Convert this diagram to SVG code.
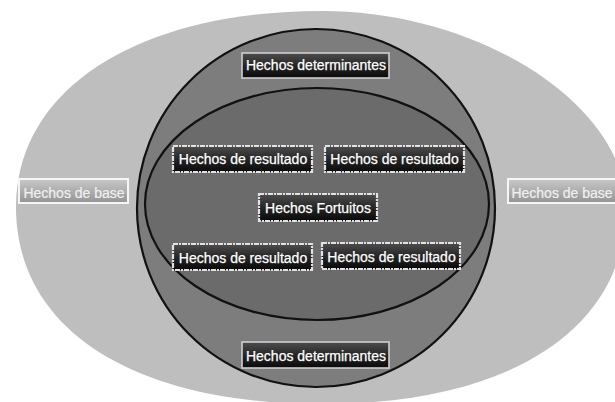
<svg xmlns="http://www.w3.org/2000/svg" width="615" height="402" viewBox="0 0 615 402">
  <defs>
    <linearGradient id="gDark" x1="0" y1="0" x2="0" y2="1">
      <stop offset="0" stop-color="#4e4e4e"/>
      <stop offset="0.5" stop-color="#262626"/>
      <stop offset="1" stop-color="#0a0a0a"/>
    </linearGradient>
    <linearGradient id="gBase" x1="0" y1="0" x2="0" y2="1">
      <stop offset="0" stop-color="#c8c8c8"/>
      <stop offset="1" stop-color="#949494"/>
    </linearGradient>
  </defs>
  <style>
    .lbl { font-family: "Liberation Sans", Arial, sans-serif; font-size: 14px; fill: #ffffff; stroke: #ffffff; stroke-width: 0.25; text-anchor: middle; }
    .lblBase { font-family: "Liberation Sans", Arial, sans-serif; font-size: 14px; fill: #f0f0f0; stroke: #f0f0f0; stroke-width: 0.2; text-anchor: middle; }
    .chalk { fill: url(#gDark); stroke: #e2e2e2; stroke-width: 2.2; stroke-dasharray: 5 1 2 1; }
    .det { fill: url(#gDark); stroke: #cfcfcf; stroke-width: 1.6; }
    .base { fill: url(#gBase); stroke: #f6f6f6; stroke-width: 2; }
    .ring { stroke: #111111; stroke-width: 2.2; }
  </style>
  <rect width="615" height="402" fill="#ffffff"/>
  <g id="outer">
    <path d="M322,11 C480,11 626,105 626,207 C626,329 510,404 322,404 C132,404 16,329 16,207 C16,89 138,11 322,11 Z" fill="#bebebe"/>
  </g>
  <g id="middle">
    <circle class="ring" cx="316" cy="208" r="179" fill="#7d7d7d"/>
  </g>
  <g id="inner">
    <ellipse class="ring" cx="317" cy="204" rx="172" ry="116" fill="#6b6b6b"/>
  </g>
  <g id="det-top">
    <rect class="det" x="242" y="53" width="147" height="25"/>
    <text class="lbl" x="316" y="70">Hechos determinantes</text>
  </g>
  <g id="det-bottom">
    <rect class="det" x="242" y="342" width="147" height="26"/>
    <text class="lbl" x="316" y="361">Hechos determinantes</text>
  </g>
  <g id="res-tl">
    <rect class="chalk" x="173" y="146" width="139" height="26"/>
    <text class="lbl" x="243" y="164">Hechos de resultado</text>
  </g>
  <g id="res-tr">
    <rect class="chalk" x="325" y="146" width="139" height="26"/>
    <text class="lbl" x="394.5" y="164">Hechos de resultado</text>
  </g>
  <g id="fortuitos">
    <rect class="chalk" x="259" y="194" width="118" height="27"/>
    <text class="lbl" x="318" y="213">Hechos Fortuitos</text>
  </g>
  <g id="res-bl">
    <rect class="chalk" x="173" y="244" width="139" height="26"/>
    <text class="lbl" x="243" y="262.5">Hechos de resultado</text>
  </g>
  <g id="res-br">
    <rect class="chalk" x="322" y="243" width="138" height="26"/>
    <text class="lbl" x="391.5" y="261.5">Hechos de resultado</text>
  </g>
  <g id="base-left">
    <rect class="base" x="19" y="179" width="109" height="24"/>
    <text class="lblBase" x="74" y="197.5">Hechos de base</text>
  </g>
  <g id="base-right">
    <rect class="base" x="508" y="179" width="112" height="24"/>
    <text class="lblBase" x="562" y="197.5">Hechos de base</text>
  </g>
</svg>
